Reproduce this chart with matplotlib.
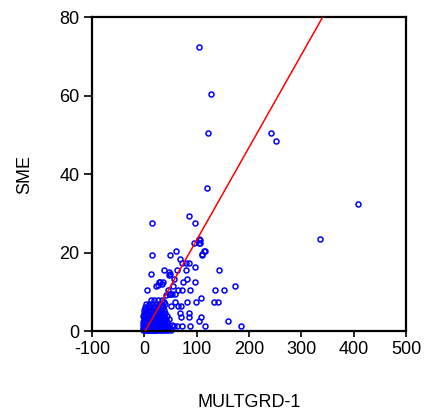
import matplotlib
matplotlib.use("Agg")
import matplotlib.pyplot as plt
import numpy as np

plt.rcParams['font.family'] = ['Liberation Sans', 'DejaVu Sans']
plt.rcParams['axes.unicode_minus'] = False

# Scattered points (MULTGRD-1, SME)
outer_x = [105, 127, 122, 241.5, 251, 120.5, 408.5, 334.6,
           142, 174, 134, 152, 132.5, 141, 159, 184, 116, 108, 108, 113, 110, 107, 107,
           85.4, 14.7, 97, 94, 105, 105, 111, 115, 14.7, 49.7, 60.6, 68.8, 71.3, 80.3, 86,
           97, 12.8, 37, 49.7, 62.5, 79.7, 81, 74.6, 56, 97, 23, 28.7, 35.7, 5, 44.5,
           49.7, 59, 63.7, 71.3, 88, 99, 81.6, 58, 63.7, 70, 50.3, 38, 67.5, 70.7, 86,
           86, 104, 88, 72, 62, 57, 26, 30, 33, 48, 48, 55, 47, 52, 42]
outer_y = [72.3, 60.4, 50.4, 50.4, 48.4, 36.5, 32.4, 23.4,
           15.5, 11.5, 10.4, 10.4, 7.5, 7.5, 2.5, 1.4, 1.4, 3.5, 8.5, 20.4, 19.4, 23.2, 22.5,
           29.4, 27.4, 27.4, 22.3, 23.4, 22.3, 19.5, 20.4, 19.4, 19.4, 20.4, 18.4, 17.4, 17.4, 17.4,
           16.4, 14.4, 15.5, 14.4, 15.5, 15.5, 13.3, 12.5, 13.3, 12.5, 11.5, 12.5, 12.5, 10.4, 10.4,
           9.4, 9.4, 10.4, 10.4, 10.4, 7.5, 7.5, 7.5, 6.5, 6.5, 6.5, 7.5, 4.5, 3.6, 4.5,
           3.6, 2.6, 1.4, 1.4, 1.4, 1.4, 11.7, 12.6, 12.0, 14.2, 15.0, 11.5, 9.5, 9.5, 9.1]

# Dense cluster near the origin: rows of (SME, list of MULTGRD-1 values)
cluster_rows = [
    (0.2, [-3, -1, 1, 3, 5, 7, 9, 11, 13, 15, 17, 19, 21, 23, 25, 28, 31, 34, 37, 41, 45, 50]),
    (0.8, [-2, 0, 2, 4, 6, 8, 10, 12, 14, 16, 18, 20, 22, 24, 27, 30, 33, 36, 39, 43, 48]),
    (1.5, [-3, -1, 1, 3, 5, 7, 9, 11, 13, 15, 17, 19, 22, 25, 28, 31, 35, 40, 46, 52]),
    (2.3, [-2, 0, 2, 4, 6, 9, 12, 15, 18, 21, 24, 27, 30, 34, 38, 44]),
    (3.0, [-1, 1, 3, 6, 9, 12, 15, 18, 21, 24, 28, 32, 36, 41, 47]),
    (3.8, [-2, 0, 3, 6, 9, 12, 16, 20, 24, 28, 33, 38, 43]),
    (4.6, [-1, 2, 5, 8, 12, 16, 20, 25, 30, 35, 40]),
    (5.4, [0, 4, 8, 12, 17, 22, 27, 32, 37]),
    (6.2, [1, 6, 11, 16, 21, 26, 31, 36]),
    (7.0, [3, 9, 15, 22, 28, 34, 40]),
    (7.8, [12, 19, 26, 33]),
]

# Fitted line
line_intercept = -0.4
line_slope = 0.236

x_ticks = [-100, 0, 100, 200, 300, 400, 500]
y_ticks = [0, 20, 40, 60, 80]

cx = [x for y, xs in cluster_rows for x in xs]
cy = [y for y, xs in cluster_rows for x in xs]

fig = plt.figure(figsize=(4.27, 4.16), dpi=100)
ax = fig.add_axes([0.2155, 0.2043, 0.7355, 0.7547])

ax.plot(cx, cy, linestyle='none', marker='o', markersize=3.6, markeredgewidth=1.1,
        markerfacecolor='none', markeredgecolor='#0000ff', clip_on=False, zorder=2)
ax.plot(outer_x, outer_y, linestyle='none', marker='o', markersize=3.6, markeredgewidth=1.1,
        markerfacecolor='none', markeredgecolor='#0000ff', clip_on=False, zorder=2)

lx = np.array([0, 400])
ax.plot(lx, line_intercept + line_slope * lx, color='#ff0000', linewidth=1.1, zorder=3)

ax.set_xlim(-100, 500)
ax.set_ylim(0, 80)
ax.set_xticks(x_ticks)
ax.set_yticks(y_ticks)
ax.tick_params(axis='both', direction='out', labelsize=13, width=1.2, color='black')
ax.tick_params(axis='x', length=4, pad=3)
ax.tick_params(axis='y', length=6, pad=3)
for s in ax.spines.values():
    s.set_linewidth(1.6)
    s.set_color('black')

ax.set_xlabel('MULTGRD-1', fontsize=13, labelpad=26)
ax.set_ylabel('SME', fontsize=13, labelpad=19)

fig.savefig('out.png', dpi=100, facecolor='white')
